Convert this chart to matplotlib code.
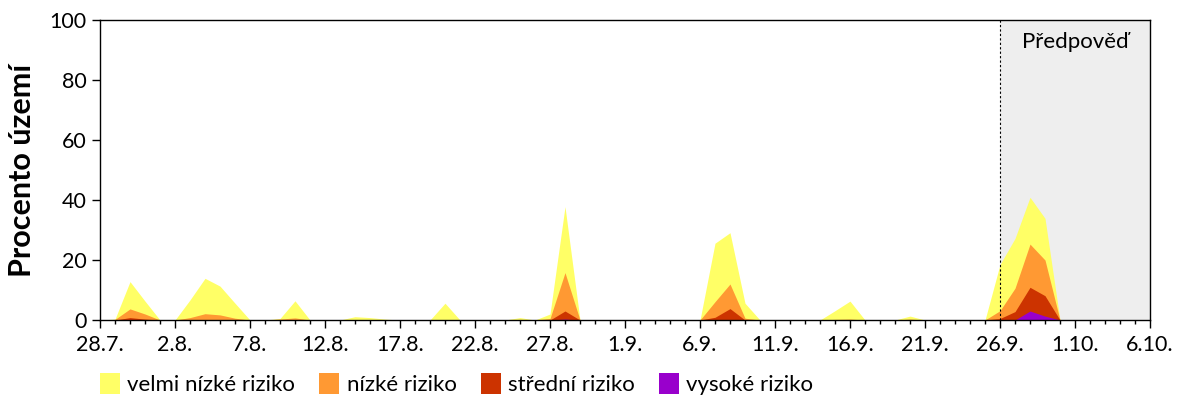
import numpy as np
import matplotlib
matplotlib.use('Agg')
from matplotlib import pyplot as plt
from matplotlib.patches import Patch

plt.rcParams['font.family'] = ['Lato', 'DejaVu Sans']

# days from 28.7. to 6.10.
days = np.arange(71)
tick_labels = ['28.7.', '2.8.', '7.8.', '12.8.', '17.8.', '22.8.', '27.8.', '1.9.',
               '6.9.', '11.9.', '16.9.', '21.9.', '26.9.', '1.10.', '6.10.']

# percent of territory with at least given risk level (top edge of each area)
velmi_nizke = [0, 0.3, 12.8, 6.3, 0, 0, 6.7, 13.9, 11.3, 5.6,
               0, 0, 0.5, 6.4, 0, 0, 0, 1.1, 0.8, 0.3,
               0, 0, 0, 5.6, 0, 0, 0, 0, 0.8, 0,
               2.0, 37.8, 0, 0, 0, 0, 0, 0, 0, 0,
               0, 25.6, 29.1, 5.6, 0, 0, 0, 0, 0, 3.1,
               6.3, 0, 0, 0, 1.3, 0, 0, 0, 0, 0,
               18.5, 27.2, 40.9, 33.9, 0, 0, 0, 0, 0, 0, 0]
nizke = [0, 0.2, 3.7, 2.0, 0, 0, 0.8, 2.1, 1.7, 0.6,
         0, 0, 0.3, 0.7, 0, 0, 0, 0, 0, 0,
         0, 0, 0, 0, 0, 0, 0, 0, 0.2, 0,
         0.5, 15.8, 0, 0, 0, 0, 0, 0, 0, 0,
         0, 6.1, 12.0, 0.6, 0, 0, 0, 0, 0, 0.2,
         0.3, 0, 0, 0, 0.3, 0, 0, 0, 0, 0,
         3.1, 10.6, 25.3, 20.0, 0, 0, 0, 0, 0, 0, 0]
stredni = [0, 0, 0.8, 0.3, 0, 0, 0, 0, 0, 0,
           0, 0, 0, 0, 0, 0, 0, 0, 0, 0,
           0, 0, 0, 0, 0, 0, 0, 0, 0, 0,
           0, 3.0, 0, 0, 0, 0, 0, 0, 0, 0,
           0, 0.9, 3.8, 0, 0, 0, 0, 0, 0, 0,
           0, 0, 0, 0, 0, 0, 0, 0, 0, 0,
           0.5, 2.8, 10.9, 8.1, 0, 0, 0, 0, 0, 0, 0]
vysoke = [0] * 31 + [0.3] + [0] * 30 + [3.0, 1.3] + [0] * 7

labels = ['velmi nízké riziko', 'nízké riziko', 'střední riziko', 'vysoké riziko']
colors = ['#FFFF66', '#FF9933', '#CC3300', '#9900CC']
forecast_start = 60

fig = plt.figure(figsize=(12, 4), dpi=100)
ax = fig.add_axes([100 / 1200, 80 / 400, 1050 / 1200, 300 / 400])

ax.axvspan(forecast_start, days[-1], color='#EEEEEE', zorder=0, lw=0)
for vals, c in zip([velmi_nizke, nizke, stredni, vysoke], colors):
    ax.fill_between(days, 0, vals, color=c, lw=0, zorder=2)
ax.axvline(forecast_start, color='black', ls=(0, (2, 2)), lw=0.8, zorder=3)
ax.text(65, 92.5, 'Předpověď', ha='center', va='center', fontsize=16)

ax.set_xlim(0, 70)
ax.set_ylim(0, 100)
ax.set_xticks(days[::5])
ax.set_xticklabels(tick_labels)
ax.set_xticks(days, minor=True)
ax.set_yticks([0, 20, 40, 60, 80, 100])
ax.tick_params(axis='both', which='major', labelsize=15.5, length=6, width=1, direction='out')
ax.tick_params(axis='x', which='major', pad=5)
ax.tick_params(axis='x', which='minor', length=3, width=1)
ax.set_ylabel('Procento území', fontsize=22, fontweight='bold', labelpad=10)
for s in ax.spines.values():
    s.set_linewidth(1)

handles = [Patch(facecolor=c, edgecolor='none') for c in colors]
fig.legend(handles, labels, loc='center left', bbox_to_anchor=(100 / 1200, 16 / 400), ncol=4,
           frameon=False, fontsize=16, handlelength=0.9, handleheight=1.1,
           handletextpad=0.32, columnspacing=1.1, borderpad=0, borderaxespad=0)

plt.savefig('out.png')
